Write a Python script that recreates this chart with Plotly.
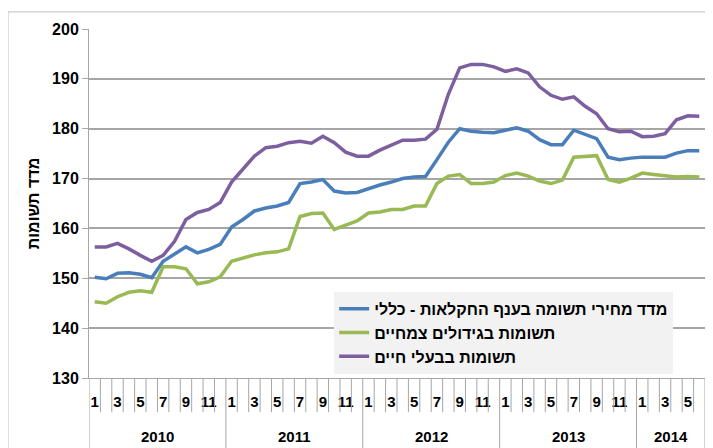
import plotly.graph_objects as go

years = ["2010", "2011", "2012", "2013", "2014"]
months_per_year = [12, 12, 12, 12, 6]

general = [150.2, 149.9, 151.0, 151.1, 150.8, 150.1, 153.4, 154.8, 156.3, 155.1, 155.8, 156.8,
           160.3, 161.8, 163.5, 164.1, 164.5, 165.2, 169.0, 169.3, 169.8, 167.5, 167.1, 167.2,
           168.0, 168.7, 169.3, 170.0, 170.3, 170.4, 173.8, 177.3, 180.0, 179.5, 179.3, 179.2,
           179.7, 180.2, 179.5, 177.8, 176.8, 176.8, 179.7, 178.8, 178.0, 174.3, 173.8, 174.1,
           174.3, 174.3, 174.3, 175.1, 175.6, 175.6]

crops = [145.3, 145.0, 146.3, 147.2, 147.5, 147.2, 152.3, 152.3, 151.9, 148.9, 149.3, 150.3,
         153.4, 154.0, 154.7, 155.1, 155.3, 155.9, 162.4, 163.0, 163.1, 159.8, 160.6, 161.5,
         163.1, 163.3, 163.8, 163.8, 164.5, 164.5, 169.0, 170.5, 170.8, 169.0, 169.0, 169.3,
         170.6, 171.1, 170.5, 169.5, 169.0, 169.7, 174.3, 174.5, 174.6, 169.8, 169.3, 170.1,
         171.1, 170.8, 170.6, 170.3, 170.4, 170.3]

livestock = [156.3, 156.3, 157.0, 155.9, 154.6, 153.4, 154.6, 157.4, 161.8, 163.2, 163.8, 165.2,
             169.3, 171.8, 174.5, 176.2, 176.5, 177.2, 177.5, 177.1, 178.5, 177.2, 175.3, 174.5,
             174.5, 175.7, 176.7, 177.7, 177.7, 177.9, 179.9, 186.9, 192.2, 192.9, 192.9, 192.4,
             191.5, 192.0, 191.2, 188.4, 186.7, 185.9, 186.4, 184.5, 183.0, 180.0, 179.4, 179.5,
             178.4, 178.5, 179.0, 181.8, 182.6, 182.5]

names = ["מדד מחירי תשומה בענף החקלאות - כללי", "תשומות בגידולים צמחיים", "תשומות בבעלי חיים"]
colors = ["#4a7ebb", "#98b954", "#7d5fa0"]
y_ticks = [130, 140, 150, 160, 170, 180, 190, 200]

# month index along the axis, month number for labels
month_num = [m + 1 for n in months_per_year for m in range(n)]
x = list(range(len(month_num)))
tickvals = [i for i in x if month_num[i] % 2 == 1]
ticktext = ["<b>%d</b>" % month_num[i] for i in tickvals]

fig = go.Figure()
for name, ys, c in zip(names, [general, crops, livestock], colors):
    fig.add_trace(go.Scatter(x=x, y=ys, name="<b>%s</b>" % name, mode="lines",
                             line=dict(color=c, width=3.5)))

grid = "#a6a6a6"
shapes = []
start = 0
year_starts = []
for n in months_per_year:
    year_starts.append(start)
    start += n
for i in range(len(x) + 1):
    big = i in year_starts or i == len(x)
    shapes.append(dict(type="line", xref="x", yref="paper", x0=i - 0.5, x1=i - 0.5,
                       y0=0, y1=-0.21 if big else -0.098,
                       line=dict(color=grid, width=1)))
# outer chart frame
shapes.append(dict(type="line", xref="paper", yref="paper", x0=-0.1315, x1=-0.1315,
                   y0=1.049, y1=-0.22, line=dict(color="#bfbfbf", width=1)))
shapes.append(dict(type="line", xref="paper", yref="paper", x0=-0.1315, x1=1.02,
                   y0=1.049, y1=1.049, line=dict(color="#bfbfbf", width=1)))

annotations = []
for yr, s, n in zip(years, year_starts, months_per_year):
    annotations.append(dict(text="<b>%s</b>" % yr, x=s + (n - 1) / 2, xref="x", y=-0.169,
                            yref="paper", showarrow=False, yanchor="middle",
                            font=dict(size=15, color="#000")))

# page body keeps an 8px margin, so the figure is 8px smaller than the window
fig.update_layout(
    width=705, height=440,
    margin=dict(l=81, r=8, t=21, b=70),
    paper_bgcolor="white", plot_bgcolor="white",
    font=dict(family="Liberation Sans, Arial, DejaVu Sans, sans-serif", color="#000"),
    showlegend=True,
    legend=dict(x=0.398, y=0.247, xanchor="left", yanchor="top",
                bgcolor="#f2f2f2", font=dict(size=16), itemwidth=30),
    xaxis=dict(range=[-0.5, len(x) - 0.5], tickvals=tickvals, ticktext=ticktext,
               showgrid=False, showline=True, linecolor=grid, linewidth=1,
               ticks="outside", ticklen=10, tickcolor="rgba(0,0,0,0)",
               tickfont=dict(size=15), zeroline=False),
    yaxis=dict(range=[130, 200], tickvals=y_ticks, ticktext=["<b>%d</b>" % v for v in y_ticks],
               showgrid=True, gridcolor=grid, gridwidth=1.5,
               showline=True, linecolor=grid, linewidth=1, ticks="outside", ticklen=6,
               tickcolor=grid, tickfont=dict(size=16), zeroline=False,
               title=dict(text="<b>מדד תשומות</b>", standoff=8, font=dict(size=16))),
    shapes=shapes,
    annotations=annotations,
)

fig.write_html("out.html")
